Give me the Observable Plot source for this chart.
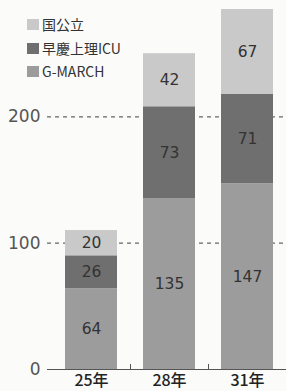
<!DOCTYPE html>
<html><head><meta charset="utf-8">
<script src="https://cdn.jsdelivr.net/npm/d3@7"></script>
<script src="https://cdn.jsdelivr.net/npm/@observablehq/plot@0.6"></script>
<style>
body{margin:0;background:#fbfbfa;}
#wrap{position:relative;width:286px;height:391px;font-family:"Noto Sans CJK JP","Noto Sans",sans-serif;}
#legend{position:absolute;left:27px;top:13px;font-size:14px;color:#333;line-height:23.5px;}
#legend .row{display:flex;align-items:center;white-space:nowrap;}
#legend .sw{width:12px;height:11px;margin-right:3px;}
</style></head><body><div id="wrap"><div id="legend"></div></div>
<script>
const years = ["25年","28年","31年"];
const groups = ["G-MARCH","早慶上理ICU","国公立"];
const gmarch = [64,135,147];
const soukei = [26,73,71];
const kokkou = [20,42,67];
const colors = ["#9c9c9c","#6f6f6f","#c9c9c9"];
const yTicks = [0,100,200];
const gridTicks = [100,200];
const legendOrder = ["国公立","早慶上理ICU","G-MARCH"];

const seriesValues = [gmarch, soukei, kokkou];
const data = [];
years.forEach((yr,i)=>{
  groups.forEach((g,j)=>data.push({year:yr, group:g, value:seriesValues[j][i]}));
});

const chart = Plot.plot({
  width:286, height:391,
  marginLeft:52, marginRight:0, marginTop:9, marginBottom:22,
  style:{fontFamily:'"Noto Sans CJK JP","Noto Sans",sans-serif', background:"transparent", overflow:"visible"},
  x:{domain:years, paddingInner:1/3, paddingOuter:1/6},
  y:{domain:[0,285]},
  color:{domain:groups, range:colors},
  marks:[
    Plot.ruleY(gridTicks,{stroke:"#666", strokeWidth:1.2, strokeDasharray:"4,4", insetLeft:-5}),
    Plot.barY(data,{x:"year", y:"value", fill:"group", order:groups}),
    Plot.textY(data,Plot.stackY({x:"year", y:"value", z:"group", order:groups, text:"value", fontSize:15.5, fontFamily:"DejaVu Sans", fill:"#333"})),
    Plot.ruleY([0],{stroke:"#555", strokeWidth:1.2, insetLeft:-5}),
    Plot.ruleX(years.slice(0,2),{x:d=>d, dx:39, y1:0, y2:4, stroke:"#555"}),
    Plot.axisY(yTicks,{tickSize:0, tickPadding:12, fontSize:17, fontFamily:"DejaVu Sans", fill:"#555", label:null}),
    Plot.axisX({tickSize:0, tickPadding:5, fontSize:16, fontWeight:500, fill:"#222", label:null})
  ]
});
document.getElementById("wrap").appendChild(chart);

const leg = document.getElementById("legend");
legendOrder.forEach(g=>{
  const row = document.createElement("div"); row.className="row";
  const sw = document.createElement("span"); sw.className="sw";
  sw.style.background = colors[groups.indexOf(g)];
  const t = document.createElement("span"); t.textContent = g;
  row.appendChild(sw); row.appendChild(t); leg.appendChild(row);
});
</script></body></html>
